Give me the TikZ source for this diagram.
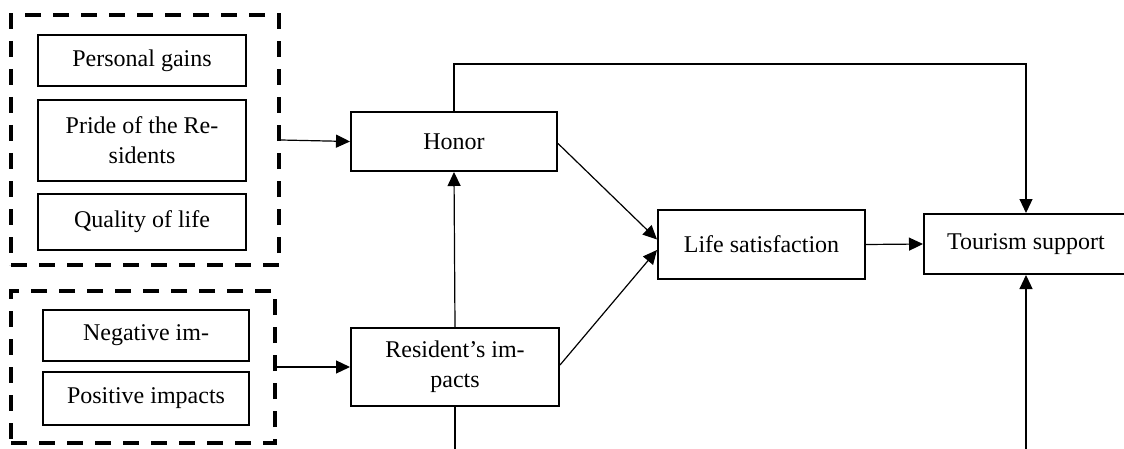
\documentclass[tikz,border=0pt]{standalone}
\usepackage{fontspec}
\setmainfont{Liberation Serif}
\usetikzlibrary{arrows.meta}

\begin{document}
\begin{tikzpicture}[x=0.5pt,y=-0.5pt,
    box/.style={draw,line width=1pt,inner sep=0pt,align=center,font=\fontsize{12}{15}\selectfont},
    grp/.style={draw,line width=1.8pt,dash pattern=on 8pt off 6pt,inner sep=0pt},
    conn/.style={line width=0.6pt,-{Triangle[length=7pt,width=6.5pt]}}]
    \useasboundingbox (0,0) rectangle (1124,449);
    \coordinate (top) at (740,64);
    \coordinate (bot) at (0,449);
    % dashed groups
    \node[grp,minimum width=134pt,minimum height=125pt] (grpA) at (145,140) {};
    \node[grp,minimum width=132pt,minimum height=76pt] (grpB) at (143,367) {};
    % items in the groups
    \node[box,minimum width=104pt,minimum height=25.5pt] (pg) at (142,60.5) {Personal gains};
    \node[box,minimum width=104pt,minimum height=40.5pt] (pr) at (142,140.5) {Pride of the Re-\\sidents};
    \node[box,minimum width=104pt,minimum height=28pt] (ql) at (142,222) {Quality of life};
    \node[box,minimum width=103pt,minimum height=25.5pt] (ng) at (146,335.5) {Negative im-};
    \node[box,minimum width=103pt,minimum height=26.5pt] (ps) at (146,398.5) {Positive impacts};
    % main boxes
    \node[box,minimum width=103pt,minimum height=29.5pt] (hon) at (454,141.5) {Honor};
    \node[box,minimum width=104pt,minimum height=39pt] (res) at (455,367) {Resident's im-\\pacts};
    \node[box,minimum width=103.5pt,minimum height=34.5pt] (ls) at (761.5,244.5) {Life satisfaction};
    \node[box,minimum width=102pt,minimum height=30pt] (ts) at (1026,244) {Tourism support};
    % connectors
    \draw[conn] (grpA.east) -- (hon.west);
    \draw[conn] (grpB.east) -- (res.west);
    \draw[conn] (res.north) -- (hon.south);
    \draw[conn] ([yshift=-1pt]hon.east) -- ([yshift=2.5pt]ls.west);
    \draw[conn] ([yshift=1pt]res.east) -- ([yshift=-2.75pt]ls.west);
    \draw[conn] (ls.east) -- (ts.west);
    \draw[conn] (hon.north) |- (top) -| (ts.north);
    \draw[line width=0.6pt] (res.south) -- (res.south |- bot);
    \draw[conn] (ts.south |- bot) -- (ts.south);
\end{tikzpicture}
\end{document}
